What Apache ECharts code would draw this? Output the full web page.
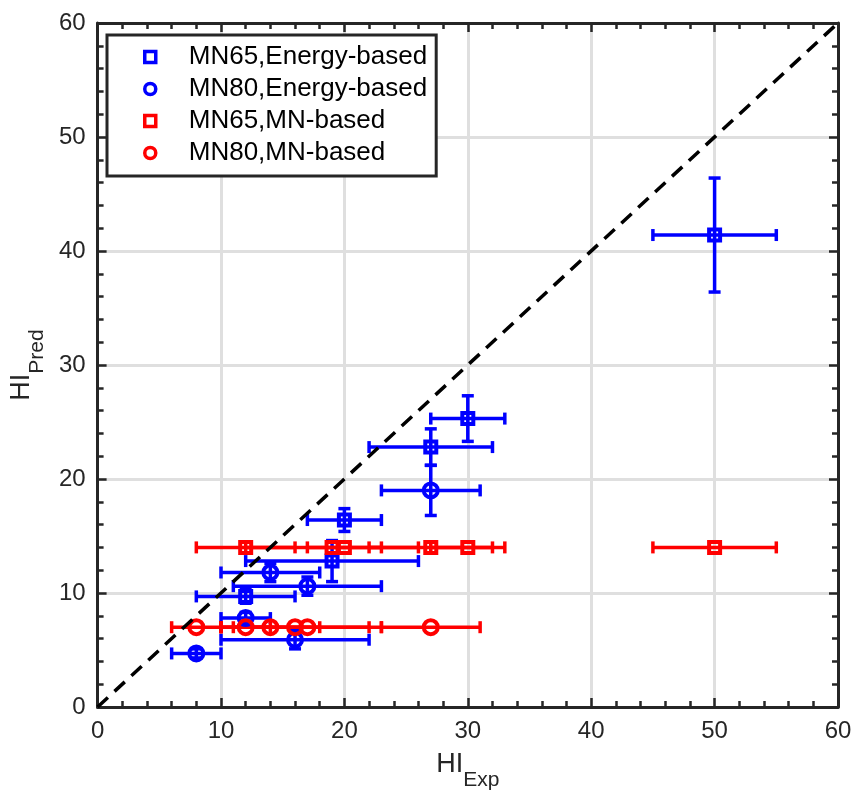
<!DOCTYPE html>
<html>
<head>
<meta charset="utf-8">
<title>HI prediction vs experiment</title>
<script src="https://cdn.jsdelivr.net/npm/echarts@6/dist/echarts.min.js"></script>
<style>
  html, body { margin: 0; padding: 0; background: #fff; }
  #chart { width: 858px; height: 796px; }
</style>
</head>
<body>
<div id="chart"></div>
<script>
// Experimental HI and its spread, MN65 specimens
const mn65Exp = [12, 19, 20, 27, 30, 50];
const mn65ExpErr = [4, 7, 3, 5, 3, 5];
// Predicted HI, MN65, energy-based method
const mn65EnergyPred = [9.7, 12.8, 16.4, 22.8, 25.3, 41.4];
const mn65EnergyPredErr = [0.6, 1.8, 1.0, 1.6, 2.0, 5.0];
// Predicted HI, MN65, MN-based method
const mn65MnPred = [14, 14, 14, 14, 14, 14];

// Experimental HI and its spread, MN80 specimens
const mn80Exp = [8, 12, 14, 16, 17, 27];
const mn80ExpErr = [2, 2, 4, 6, 6, 4];
// Predicted HI, MN80, energy-based method
const mn80EnergyPred = [4.7, 7.8, 11.8, 5.9, 10.6, 19.0];
const mn80EnergyPredErr = [0.4, 0.5, 0.8, 0.8, 0.8, 2.2];
// Predicted HI, MN80, MN-based method
const mn80MnPred = [7, 7, 7, 7, 7, 7];

// Reference line HI_Pred = HI_Exp
const unityLine = [[0, 0], [60, 60]];

const axisTicks = [0, 10, 20, 30, 40, 50, 60];

const BLUE = '#0000ff';
const RED = '#ff0000';
const INK = '#262626';
const FONT = '"Liberation Sans", Arial, Helvetica, sans-serif';

function rows(xs, xe, ys, ye) {
  return xs.map((x, i) => [x, ys[i], xe[i], ye ? ye[i] : 0]);
}

function errorBars(color) {
  return function (params, api) {
    const x = api.value(0), y = api.value(1);
    const ex = api.value(2), ey = api.value(3);
    const cap = 6;
    const style = { stroke: color, lineWidth: 3.5, fill: null };
    const l = api.coord([x - ex, y]);
    const r = api.coord([x + ex, y]);
    const kids = [
      { type: 'line', shape: { x1: l[0], y1: l[1], x2: r[0], y2: r[1] }, style },
      { type: 'line', shape: { x1: l[0], y1: l[1] - cap, x2: l[0], y2: l[1] + cap }, style },
      { type: 'line', shape: { x1: r[0], y1: r[1] - cap, x2: r[0], y2: r[1] + cap }, style }
    ];
    if (ey > 0) {
      const t = api.coord([x, y + ey]);
      const b = api.coord([x, y - ey]);
      kids.push(
        { type: 'line', shape: { x1: t[0], y1: t[1], x2: b[0], y2: b[1] }, style },
        { type: 'line', shape: { x1: t[0] - cap, y1: t[1], x2: t[0] + cap, y2: t[1] }, style },
        { type: 'line', shape: { x1: b[0] - cap, y1: b[1], x2: b[0] + cap, y2: b[1] }, style }
      );
    }
    return { type: 'group', children: kids };
  };
}

function errSeries(color, data) {
  return {
    type: 'custom',
    renderItem: errorBars(color),
    data: data,
    encode: { x: 0, y: 1 },
    clip: false,
    silent: true,
    z: 3
  };
}

function markSeries(name, color, symbol, size, data) {
  return {
    name: name,
    type: 'scatter',
    symbol: symbol,
    symbolSize: size,
    data: data.map(d => [d[0], d[1]]),
    itemStyle: { color: 'rgba(255,255,255,0)', borderColor: color, borderWidth: 4, opacity: 1 },
    z: 4
  };
}

const dMn65Energy = rows(mn65Exp, mn65ExpErr, mn65EnergyPred, mn65EnergyPredErr);
const dMn80Energy = rows(mn80Exp, mn80ExpErr, mn80EnergyPred, mn80EnergyPredErr);
const dMn65Mn = rows(mn65Exp, mn65ExpErr, mn65MnPred, null);
const dMn80Mn = rows(mn80Exp, mn80ExpErr, mn80MnPred, null);

const tickLabel = { color: INK, fontSize: 24, fontFamily: FONT };

function mainAxis(extra) {
  return Object.assign({
    type: 'value',
    min: axisTicks[0],
    max: axisTicks[axisTicks.length - 1],
    interval: axisTicks[1] - axisTicks[0],
    axisLine: { show: true, onZero: false, lineStyle: { color: INK, width: 3 } },
    axisTick: { show: true, inside: true, length: 9, lineStyle: { color: INK, width: 2.5 } },
    minorTick: { show: true, splitNumber: 5, length: 6, lineStyle: { color: INK, width: 2.5 } },
    splitLine: { show: true, lineStyle: { color: '#dfdfdf', width: 3 } },
    axisLabel: Object.assign({ margin: 12 }, tickLabel)
  }, extra);
}

function frameAxis(position) {
  return {
    type: 'value',
    position: position,
    min: axisTicks[0],
    max: axisTicks[axisTicks.length - 1],
    interval: axisTicks[1] - axisTicks[0],
    axisLine: { show: true, onZero: false, lineStyle: { color: INK, width: 3 } },
    axisTick: { show: true, inside: true, length: 9, lineStyle: { color: INK, width: 2.5 } },
    minorTick: { show: true, splitNumber: 5, length: 6, lineStyle: { color: INK, width: 2.5 } },
    splitLine: { show: false },
    axisLabel: { show: false }
  };
}

const nameRich = {
  a: { fontSize: 27, fontFamily: FONT, color: INK, lineHeight: 40, verticalAlign: 'top' },
  s: { fontSize: 21, fontFamily: FONT, color: INK, lineHeight: 40, verticalAlign: 'bottom' }
};

const chart = echarts.init(document.getElementById('chart'), null, { renderer: 'canvas' });

chart.setOption({
  animation: false,
  backgroundColor: '#ffffff',
  grid: { left: 97, right: 20, top: 23, bottom: 89, containLabel: false },
  xAxis: [
    mainAxis({
      position: 'bottom',
      name: '{a|HI}{s|Exp}',
      nameLocation: 'middle',
      nameGap: 44,
      nameTextStyle: { rich: nameRich }
    }),
    frameAxis('top')
  ],
  yAxis: [
    mainAxis({
      position: 'left',
      name: '{a|HI}{s|Pred}',
      nameLocation: 'middle',
      nameRotate: 90,
      nameGap: 42,
      nameTextStyle: { rich: nameRich }
    }),
    frameAxis('right')
  ],
  legend: {
    orient: 'vertical',
    left: 107,
    top: 35,
    padding: [9, 9, 10, 36],
    itemGap: 6,
    itemWidth: 11,
    itemHeight: 11,
    backgroundColor: '#ffffff',
    borderColor: INK,
    borderWidth: 3,
    borderRadius: 0,
    selectedMode: false,
    itemStyle: { borderWidth: 3.5 },
    textStyle: { color: '#000', fontSize: 26, fontFamily: FONT, lineHeight: 26, padding: [0, 0, 0, 28] },
    data: ['MN65,Energy-based', 'MN80,Energy-based', 'MN65,MN-based', 'MN80,MN-based']
  },
  series: [
    errSeries(BLUE, dMn65Energy),
    markSeries('MN65,Energy-based', BLUE, 'rect', 11, dMn65Energy),
    errSeries(BLUE, dMn80Energy),
    markSeries('MN80,Energy-based', BLUE, 'circle', 14, dMn80Energy),
    errSeries(RED, dMn65Mn),
    markSeries('MN65,MN-based', RED, 'rect', 11, dMn65Mn),
    errSeries(RED, dMn80Mn),
    markSeries('MN80,MN-based', RED, 'circle', 14, dMn80Mn),
    {
      type: 'line',
      data: unityLine,
      symbol: 'none',
      silent: true,
      lineStyle: { color: '#000', width: 3.5, type: [14, 9] },
      z: 5
    }
  ]
});
</script>
</body>
</html>
